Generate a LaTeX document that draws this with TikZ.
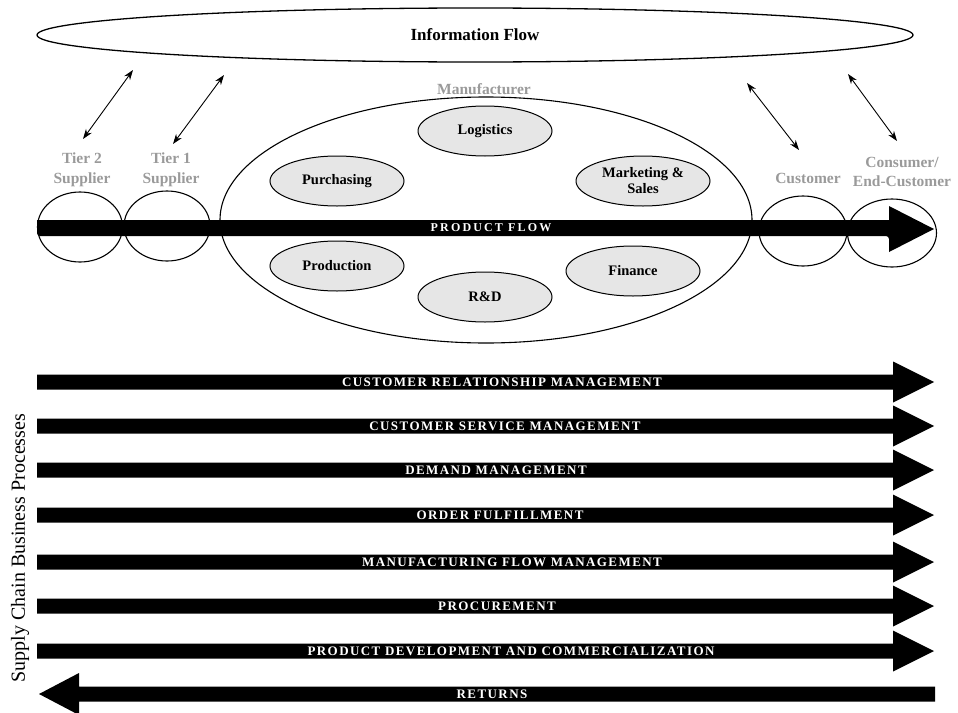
\documentclass[tikz,border=0pt]{standalone}
\usepackage{fontspec}
\setmainfont{Liberation Serif}
\newfontfamily\spacedfont[LetterSpace=18]{Liberation Serif}
\newfontfamily\bandfont[LetterSpace=11]{Liberation Serif}
\usetikzlibrary{arrows.meta,shapes.geometric}
\definecolor{labelgray}{HTML}{9A9A9A}
\definecolor{deptfill}{HTML}{E6E6E6}
\tikzset{
  outline/.style={draw=black, line width=1.1pt, fill=white, ellipse, inner sep=0pt},
  dept/.style={draw=black, line width=1pt, fill=deptfill, ellipse, minimum width=134pt, minimum height=50pt, inner sep=0pt, align=center, font=\fontsize{14.5}{16}\selectfont\bfseries},
  member/.style={text=labelgray, align=center, font=\fontsize{15.5}{19.5}\selectfont\bfseries},
  flowtext/.style={text=white, font=\fontsize{12}{12}\selectfont\spacedfont\bfseries, inner sep=0pt},
  bandtext/.style={text=white, font=\fontsize{13}{13}\selectfont\bandfont\bfseries, inner sep=0pt},
  infolink/.style={line width=0.9pt, {Stealth[length=10pt,width=7pt]}-{Stealth[length=10pt,width=7pt]}},
}
% horizontal process band: #1 node name, #2 centre y, #3 label, #4 label x
\newcommand\procband[4]{%
  \fill (37,#2-7.5) -- (893,#2-7.5) -- (893,#2-20.5) -- (934,#2) -- (893,#2+20.5) -- (893,#2+7.5) -- (37,#2+7.5) -- cycle;
  \node[bandtext] (#1) at (#4,#2) {#3};
}
\begin{document}
\begin{tikzpicture}[x=1pt, y=-1pt]
\useasboundingbox (0,0) rectangle (958,712);

% information flow
\node[outline, line width=1.3pt, minimum width=876pt, minimum height=54pt] (info) at (475,35) {};
\node[font=\fontsize{17}{17}\selectfont\bfseries] (infotext) at (475,35) {Information Flow};

% supply chain members
\node[outline, minimum width=85pt, minimum height=70pt] (tier2) at (80,227) {};
\node[outline, minimum width=86pt, minimum height=70pt] (tier1) at (167,226) {};
\node[outline, minimum width=532pt, minimum height=246pt] (manu) at (486,220) {};
\node[outline, minimum width=88pt, minimum height=70pt] (cust) at (803,231) {};
\node[outline, minimum width=89pt, minimum height=68pt] (endcust) at (892,233) {};

\node[member] (tier2lbl) at (82,170) {Tier 2\\Supplier};
\node[member] (tier1lbl) at (171,170) {Tier 1\\Supplier};
\node[member] (manulbl) at (484,89) {Manufacturer};
\node[member] (custlbl) at (808,178) {Customer};
\node[member] (endcustlbl) at (902,172) {Consumer/\\End-Customer};

% functions inside the manufacturer
\node[dept] (logistics) at (485,131) {Logistics};
\node[dept] (purchasing) at (337,181) {Purchasing};
\node[dept] (marketing) at (643,181) {Marketing \&\\Sales};
\node[dept] (production) at (337,266) {Production};
\node[dept] (finance) at (633,271) {Finance};
\node[dept] (rd) at (485,297) {R\&D};

% product flow
\fill[rounded corners=3pt] (37,220) -- (37,236) -- (889,236) [sharp corners] -- (889,252) -- (934,229) -- (889,206) -- (889,220) -- cycle;
\node[flowtext] (productflow) at (491,228) {PRODUCT FLOW};

% information links
\coordinate (a1) at (133,70);  \coordinate (b1) at (83,139);
\coordinate (a2) at (224,75);  \coordinate (b2) at (173,144);
\coordinate (a3) at (747,83);  \coordinate (b3) at (799,150);
\coordinate (a4) at (848,74);  \coordinate (b4) at (897,141);
\draw[infolink] (a1) -- (b1);
\draw[infolink] (a2) -- (b2);
\draw[infolink] (a3) -- (b3);
\draw[infolink] (a4) -- (b4);

% supply chain business processes
\procband{crm}{382}{CUSTOMER RELATIONSHIP MANAGEMENT}{502}
\procband{csm}{426}{CUSTOMER SERVICE MANAGEMENT}{505}
\procband{dm}{470}{DEMAND MANAGEMENT}{496}
\procband{of}{515}{ORDER FULFILLMENT}{500}
\procband{mfm}{562}{MANUFACTURING FLOW MANAGEMENT}{512}
\procband{proc}{606}{PROCUREMENT}{497}
\procband{pdc}{651}{PRODUCT DEVELOPMENT AND COMMERCIALIZATION}{511}
\fill (935,686.5) -- (79,686.5) -- (79,673) -- (39,694) -- (79,715) -- (79,701.5) -- (935,701.5) -- cycle;
\node[bandtext] (returns) at (492,694) {RETURNS};

\node[rotate=90, font=\fontsize{20}{20}\selectfont] (scbp) at (20,548) {Supply Chain Business Processes};
\end{tikzpicture}
\end{document}
